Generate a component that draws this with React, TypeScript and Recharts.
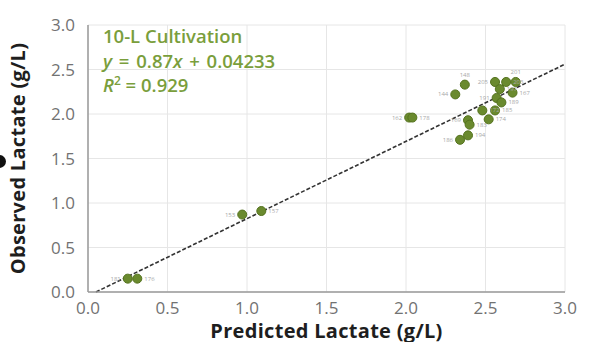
import React from "react";
import {
  ScatterChart,
  Scatter,
  XAxis,
  YAxis,
  CartesianGrid,
  ReferenceLine,
  LabelList,
} from "recharts";

// observed vs predicted lactate
const runIds = [
  "181", "176", "153", "157", "162", "178", "144", "148", "205", "203", "201",
  "197", "167", "191", "189", "172", "185", "169", "174", "194", "186", "183",
];
const predicted = [
  0.25, 0.31, 0.97, 1.09, 2.02, 2.04, 2.31, 2.37, 2.56, 2.63, 2.69,
  2.59, 2.67, 2.57, 2.6, 2.48, 2.56, 2.39, 2.52, 2.39, 2.34, 2.4,
];
const observed = [
  0.15, 0.15, 0.87, 0.91, 1.96, 1.96, 2.22, 2.33, 2.36, 2.36, 2.36,
  2.28, 2.24, 2.18, 2.13, 2.04, 2.04, 1.93, 1.94, 1.76, 1.71, 1.88,
];

// fitted line ends as drawn
const fitLine = [
  { x: 0.05, y: 0 },
  { x: 3.0, y: 2.56 },
];

const ticks = [0, 0.5, 1, 1.5, 2, 2.5, 3];

const points = predicted.map((x, i) => ({ x, y: observed[i], id: runIds[i] }));

const leftIds = new Set(["181", "153", "162", "144", "186", "205", "191", "169"]);
const topIds = new Set(["148", "201"]);

const font = "'Open Sans', sans-serif";
const green = "#7a9e3c";

const RunLabel = (props: any) => {
  const { x, y, width, height, value } = props;
  const cx = x + width / 2;
  const cy = y + height / 2;
  let tx = cx + 7;
  let ty = cy + 2;
  let anchor: "start" | "end" | "middle" = "start";
  if (leftIds.has(value)) {
    tx = cx - 7;
    anchor = "end";
  } else if (topIds.has(value)) {
    tx = cx;
    ty = cy - 8;
    anchor = "middle";
  }
  return (
    <text x={tx} y={ty} fontSize={6} fill="#a8a8a8" textAnchor={anchor}>
      {value}
    </text>
  );
};

export default function App() {
  return (
    <div style={{ position: "absolute", left: 0, top: 0, width: 595, height: 342, overflow: "hidden", background: "#fff" }}>
      <ScatterChart
        width={595}
        height={342}
        margin={{ top: 25, right: 30, bottom: 0, left: 0 }}
        style={{ fontFamily: font }}
      >
        <CartesianGrid stroke="#e6e6e6" />
        <XAxis
          type="number"
          dataKey="x"
          domain={[0, 3]}
          ticks={ticks}
          tickFormatter={(v: number) => v.toFixed(1)}
          height={50}
          tickLine={false}
          tickMargin={4}
          axisLine={{ stroke: "#9a9a9a", strokeWidth: 1.5 }}
          tick={{ fill: "#727272", fontSize: 17 }}
          label={{
            value: "Predicted Lactate (g/L)",
            position: "insideBottom",
            offset: 4,
            fill: "#1e1e1e",
            fontSize: 20,
            fontWeight: 700,
            letterSpacing: 0.3,
          }}
        />
        <YAxis
          type="number"
          dataKey="y"
          domain={[0, 3]}
          ticks={ticks}
          tickFormatter={(v: number) => v.toFixed(1)}
          width={88}
          tickLine={false}
          tickMargin={7}
          axisLine={{ stroke: "#9a9a9a", strokeWidth: 1.5 }}
          tick={{ fill: "#727272", fontSize: 17 }}
          label={{
            value: "Observed Lactate (g/L)",
            angle: -90,
            position: "insideLeft",
            offset: 18,
            style: { textAnchor: "middle" },
            fill: "#1e1e1e",
            fontSize: 20,
            fontWeight: 700,
            letterSpacing: 0.3,
          }}
        />
        <ReferenceLine
          segment={fitLine}
          stroke="#333"
          strokeWidth={1.6}
          strokeDasharray="4 2"
          ifOverflow="extendDomain"
        />
        <Scatter data={points} fill="#6a8a2e" stroke="#55731f" isAnimationActive={false} shape="circle">
          <LabelList dataKey="id" content={RunLabel} />
        </Scatter>
      </ScatterChart>
      <div
        style={{
          position: "absolute",
          left: 103,
          top: 24,
          fontFamily: font,
          fontSize: 18.5,
          fontWeight: 600,
          color: green,
          lineHeight: "24.5px",
        }}
      >
        <div>10-L Cultivation</div>
        <div style={{ wordSpacing: 2 }}>
          <i>y</i> = 0.87<i>x</i> + 0.04233
        </div>
        <div>
          <i>R</i>
          <sup style={{ fontSize: 12, lineHeight: 0 }}>2</sup> = 0.929
        </div>
      </div>
      <div
        style={{
          position: "absolute",
          left: -7,
          top: 155,
          width: 13,
          height: 13,
          borderRadius: "50%",
          background: "#111",
        }}
      />
    </div>
  );
}
